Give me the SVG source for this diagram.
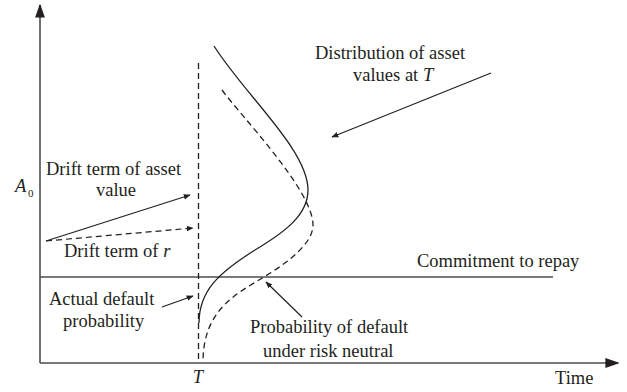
<svg xmlns="http://www.w3.org/2000/svg" width="627" height="392" viewBox="0 0 627 392">
  <style>
    text { font-family: "Liberation Serif", "Times New Roman", serif; font-size: 18.5px; fill: #231f20; }
    .it { font-style: italic; }
    .axis { stroke: #4d4d4d; stroke-width: 1.6; fill: none; }
    .curve { stroke: #231f20; stroke-width: 1.3; fill: none; }
    .dash { stroke: #231f20; stroke-width: 1.3; fill: none; stroke-dasharray: 6 4; }
    .ptr { stroke: #231f20; stroke-width: 1.2; fill: none; marker-end: url(#tip); }
  </style>
  <defs>
    <marker id="tip" viewBox="0 0 10 10" refX="9" refY="5" markerWidth="7" markerHeight="7" markerUnits="userSpaceOnUse" orient="auto">
      <path d="M0,1 L10,5 L0,9 z" fill="#231f20"/>
    </marker>
    <marker id="axtip" viewBox="0 0 10 10" refX="9" refY="5" markerWidth="14" markerHeight="14" markerUnits="userSpaceOnUse" orient="auto">
      <path d="M0,1.5 L10,5 L0,8.5 z" fill="#231f20"/>
    </marker>
  </defs>

  <!-- axes and reference lines -->
  <g id="axes">
    <line class="axis" x1="40" y1="363" x2="40" y2="5" marker-end="url(#axtip)"/>
    <line class="axis" x1="40" y1="363" x2="618" y2="363" marker-end="url(#axtip)"/>
    <line class="axis" x1="40" y1="277" x2="553" y2="277"/>
    <line class="dash" x1="198.5" y1="63" x2="198.5" y2="363" stroke-dasharray="7 4"/>
  </g>

  <!-- asset value distributions at maturity -->
  <g id="actual-distribution">
    <path class="curve" d="M214,46 C245,95 308,150 308,190 C308,215 285,232 255,250 C220,272 199,290 199,323"/>
  </g>
  <g id="risk-neutral-distribution">
    <path class="dash" d="M222,90 C240,115 313,190 313,225 C313,242 292,260 264,277 C236,294 203,310 203,362"/>
  </g>

  <!-- pointer connectors -->
  <g id="connectors">
    <line class="ptr" x1="491" y1="73" x2="332" y2="137"/>
    <line class="ptr" x1="46" y1="241" x2="190" y2="195"/>
    <line class="ptr" x1="46" y1="241" x2="193" y2="228" stroke-dasharray="6 4"/>
    <line class="ptr" x1="162" y1="307" x2="193" y2="296"/>
    <line class="ptr" x1="302" y1="317" x2="266" y2="282"/>
  </g>

  <!-- labels -->
  <g id="label-distribution">
    <text x="315" y="59">Distribution of asset</text>
    <text x="353" y="81">values at <tspan class="it">T</tspan></text>
  </g>
  <g id="label-drift-asset">
    <text x="46" y="175">Drift term of asset</text>
    <text x="116" y="196" text-anchor="middle">value</text>
  </g>
  <g id="label-a0">
    <text class="it" x="15" y="192">A</text>
    <text x="28" y="197" style="font-size:11px">0</text>
  </g>
  <g id="label-drift-r">
    <text x="64" y="257">Drift term of <tspan class="it">r</tspan></text>
  </g>
  <g id="label-commitment">
    <text x="417" y="267">Commitment to repay</text>
  </g>
  <g id="label-actual-default">
    <text x="49" y="305">Actual default</text>
    <text x="63" y="327">probability</text>
  </g>
  <g id="label-risk-neutral">
    <text x="250" y="333">Probability of default</text>
    <text x="263" y="357">under risk neutral</text>
  </g>
  <g id="label-axes">
    <text class="it" x="198" y="383" text-anchor="middle">T</text>
    <text x="555" y="384">Time</text>
  </g>
</svg>
